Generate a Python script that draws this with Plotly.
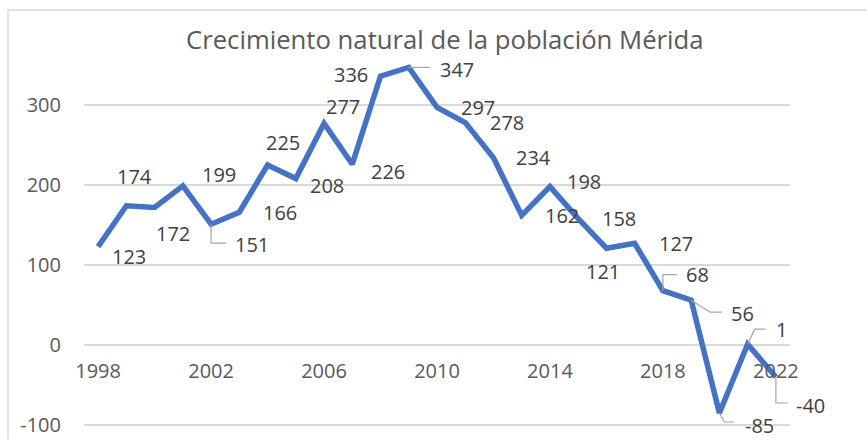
import plotly.graph_objects as go

# Data
years = [1998, 1999, 2000, 2001, 2002, 2003, 2004, 2005, 2006, 2007, 2008, 2009,
         2010, 2011, 2012, 2013, 2014, 2015, 2016, 2017, 2018, 2019, 2020, 2021, 2022]
values = [123, 174, 172, 199, 151, 166, 225, 208, 277, 226, 336, 347,
          297, 278, 234, 162, 198, 158, 121, 127, 68, 56, -85, 1, -40]
y_ticks = [-100, 0, 100, 200, 300]
y_tick_text = ["-100", "0", "100", "200", "300"]

# label offsets in pixels (dx right, dy down)
label_dx = [31, 8, 18, 36, 41, 41, 15, 31, 19, 36, -30, 48,
            41, 42, 40, 40, 34, 41, -3, 41, 35, 51, 40, 34, 35]
label_dy = [10, -29, 26, -11, 20, 0, -23, 7, -17, 7, -2, 2,
            0, 0, 0, 0, -5, 0, 23, 0, -16, 13, 12, -15, 28]
# elbow leader lines (pixel offsets from the point, dx right / dy down)
leaders = {
    2002: [(0, 0), (0, 19), (15, 19)],
    2009: [(0, 0), (21, 0)],
    2018: [(0, 0), (0, -16), (14, -16)],
    2019: [(0, 0), (19, 12), (31, 12)],
    2020: [(0, 0), (5, 9), (15, 9)],
    2021: [(0, 0), (7, -15), (18, -15)],
    2022: [(0, 0), (0, 26), (12, 26)],
}

y_min, y_max = -117.5, 431.25
font = "Open Sans"

fig = go.Figure()
fig.add_trace(go.Scatter(
    x=years, y=values, mode="lines",
    line=dict(color="#4472C4", width=5.5),
    hoverinfo="x+y", showlegend=False
))

annotations = []
for yr, v, dx, dy in zip(years, values, label_dx, label_dy):
    annotations.append(dict(
        x=yr, y=v, text=str(v), showarrow=False, xshift=dx, yshift=-dy,
        font=dict(family=font, size=20, color="#404040")
    ))

shapes = [dict(type="rect", xref="paper", yref="paper",
               x0=-0.1076, x1=2, y0=-1, y1=0.977,
               line=dict(color="#D9D9D9", width=1.5), layer="below")]
for yr, pts in leaders.items():
    v = values[years.index(yr)]
    path = "M " + " L ".join(f"{px},{-py}" for px, py in pts)
    shapes.append(dict(type="path", xref="x", yref="y",
                       xsizemode="pixel", ysizemode="pixel",
                       xanchor=yr, yanchor=v, path=path,
                       line=dict(color="#A6A6A6", width=1.2)))

fig.update_layout(
    width=867, height=439,
    margin=dict(l=84, r=77, t=0, b=0),
    paper_bgcolor="white", plot_bgcolor="white",
    title=dict(text="Crecimiento natural de la población Mérida",
               x=0.513, xanchor="center", y=0.909, yanchor="middle",
               font=dict(family=font, size=25.7, color="#595959")),
    xaxis=dict(range=[1997.5, 2022.5], tick0=1998, dtick=4, showgrid=False,
               zeroline=False, showline=False, ticks="",
               anchor="free", position=(0 - y_min) / (y_max - y_min),
               ticklabelstandoff=12,
               tickfont=dict(family=font, size=20, color="#595959")),
    yaxis=dict(range=[y_min, y_max], tickvals=y_ticks, ticktext=y_tick_text,
               showgrid=True, gridcolor="#D9D9D9", gridwidth=1.5,
               zeroline=False, showline=False,
               ticks="", ticklabelstandoff=22,
               tickfont=dict(family=font, size=20, color="#595959")),
    annotations=annotations,
    shapes=shapes,
)

fig.write_html("out.html", config={"displayModeBar": False},
               post_script="document.body.style.margin='0';")
